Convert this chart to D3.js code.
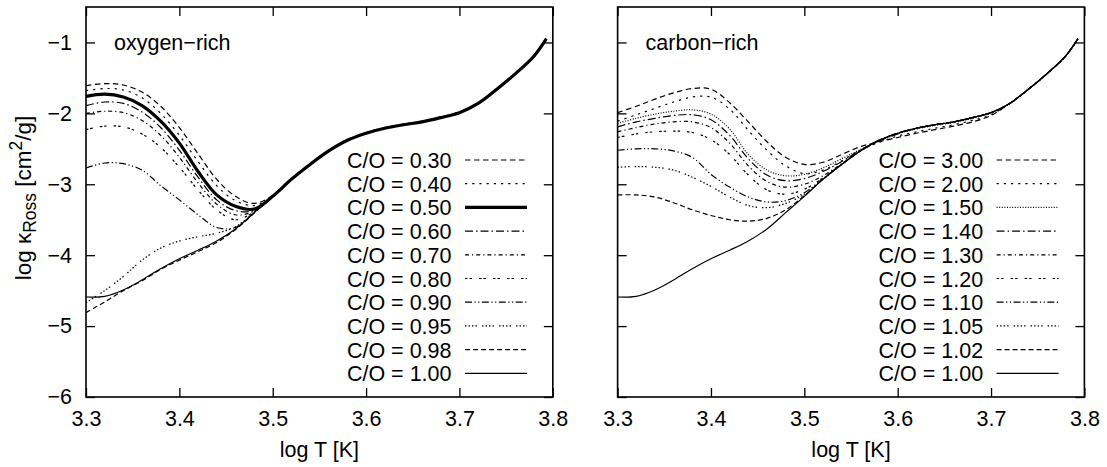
<!DOCTYPE html>
<html>
<head>
<meta charset="utf-8">
<script src="https://cdn.jsdelivr.net/npm/d3@7"></script>
<style>
  body { margin: 0; background: #fff; }
  svg text { font-family: "Liberation Sans", Arial, Helvetica, sans-serif; fill: #000; }
</style>
</head>
<body>
<svg id="chart" width="1107" height="467"></svg>
<script>
// ---------- DATA ----------
const T_GRID = [3.30,3.32,3.34,3.36,3.38,3.40,3.42,3.44,3.46,3.48,3.50,3.52,3.54,3.56,3.58,3.60,3.62,3.64,3.66,3.68,3.70];
const T_TAIL = [3.72,3.74,3.76,3.78,3.793];
const K_TAIL = [-1.86,-1.66,-1.44,-1.19,-0.95];

// oxygen-rich
const kO030 = [-1.61,-1.58,-1.60,-1.70,-1.90,-2.20,-2.57,-2.93,-3.17,-3.27,-3.16,-2.92,-2.71,-2.52,-2.37,-2.27,-2.20,-2.15,-2.11,-2.05,-1.98];
const kO040 = [-1.68,-1.65,-1.67,-1.78,-2.00,-2.31,-2.68,-3.02,-3.23,-3.30,-3.17,-2.93,-2.72,-2.53,-2.38,-2.28,-2.21,-2.16,-2.12,-2.06,-1.99];
const kO050 = [-1.76,-1.73,-1.77,-1.89,-2.11,-2.42,-2.82,-3.15,-3.31,-3.35,-3.17,-2.93,-2.72,-2.53,-2.38,-2.28,-2.21,-2.16,-2.12,-2.06,-1.99];
const kO060 = [-1.89,-1.84,-1.86,-1.98,-2.20,-2.52,-2.90,-3.22,-3.37,-3.37,-3.17,-2.93,-2.72,-2.53,-2.38,-2.28,-2.21,-2.16,-2.12,-2.06,-1.99];
const kO070 = [-2.00,-1.97,-1.99,-2.10,-2.31,-2.62,-2.98,-3.28,-3.43,-3.38,-3.17,-2.93,-2.72,-2.53,-2.38,-2.28,-2.21,-2.16,-2.12,-2.06,-1.99];
const kO080 = [-2.23,-2.18,-2.19,-2.29,-2.48,-2.76,-3.08,-3.36,-3.50,-3.39,-3.17,-2.93,-2.72,-2.53,-2.38,-2.28,-2.21,-2.16,-2.12,-2.06,-1.99];
const kO090 = [-2.77,-2.70,-2.71,-2.80,-3.02,-3.22,-3.43,-3.61,-3.61,-3.40,-3.17,-2.93,-2.72,-2.53,-2.38,-2.28,-2.21,-2.16,-2.12,-2.06,-1.99];
const kO095 = [-4.67,-4.50,-4.30,-4.07,-3.90,-3.80,-3.74,-3.69,-3.60,-3.40,-3.17,-2.93,-2.72,-2.53,-2.38,-2.28,-2.21,-2.16,-2.12,-2.06,-1.99];
const kO098 = [-4.81,-4.66,-4.50,-4.36,-4.20,-4.07,-3.95,-3.82,-3.64,-3.41,-3.17,-2.93,-2.72,-2.53,-2.38,-2.28,-2.21,-2.16,-2.12,-2.06,-1.99];
const k100  = [-4.59,-4.58,-4.49,-4.35,-4.19,-4.05,-3.93,-3.80,-3.63,-3.40,-3.17,-2.93,-2.72,-2.53,-2.38,-2.28,-2.21,-2.16,-2.12,-2.06,-1.99];

// carbon-rich
const kC300 = [-1.99,-1.90,-1.80,-1.71,-1.65,-1.66,-1.85,-2.12,-2.40,-2.62,-2.72,-2.69,-2.58,-2.47,-2.40,-2.34,-2.28,-2.23,-2.18,-2.12,-2.03];
const kC200 = [-2.11,-2.02,-1.93,-1.84,-1.77,-1.77,-1.94,-2.24,-2.52,-2.74,-2.85,-2.80,-2.67,-2.52,-2.41,-2.32,-2.26,-2.21,-2.16,-2.10,-2.02];
const kC150 = [-2.14,-2.07,-2.01,-1.97,-1.95,-2.01,-2.22,-2.58,-2.80,-2.88,-2.86,-2.77,-2.64,-2.51,-2.39,-2.29,-2.22,-2.17,-2.13,-2.07,-1.99];
const kC140 = [-2.19,-2.12,-2.07,-2.03,-2.02,-2.09,-2.31,-2.64,-2.87,-2.95,-2.92,-2.82,-2.68,-2.52,-2.39,-2.29,-2.21,-2.16,-2.12,-2.06,-1.99];
const kC130 = [-2.26,-2.20,-2.15,-2.12,-2.12,-2.20,-2.42,-2.74,-2.96,-3.04,-3.00,-2.88,-2.71,-2.53,-2.39,-2.28,-2.21,-2.16,-2.12,-2.06,-1.99];
const kC120 = [-2.34,-2.29,-2.26,-2.25,-2.27,-2.37,-2.58,-2.87,-3.08,-3.14,-3.07,-2.91,-2.72,-2.53,-2.38,-2.28,-2.21,-2.16,-2.12,-2.06,-1.99];
const kC110 = [-2.52,-2.50,-2.50,-2.53,-2.62,-2.86,-3.04,-3.18,-3.25,-3.23,-3.12,-2.92,-2.72,-2.53,-2.38,-2.28,-2.21,-2.16,-2.12,-2.06,-1.99];
const kC105 = [-2.76,-2.75,-2.76,-2.80,-2.90,-3.03,-3.18,-3.30,-3.33,-3.27,-3.14,-2.93,-2.72,-2.53,-2.38,-2.28,-2.21,-2.16,-2.12,-2.06,-1.99];
const kC102 = [-3.15,-3.15,-3.18,-3.26,-3.36,-3.44,-3.50,-3.52,-3.48,-3.36,-3.16,-2.93,-2.72,-2.53,-2.38,-2.28,-2.21,-2.16,-2.12,-2.06,-1.99];

const oxygenLabels = ["C/O = 0.30","C/O = 0.40","C/O = 0.50","C/O = 0.60","C/O = 0.70","C/O = 0.80","C/O = 0.90","C/O = 0.95","C/O = 0.98","C/O = 1.00"];
const oxygenValues = [kO030,kO040,kO050,kO060,kO070,kO080,kO090,kO095,kO098,k100];
const carbonLabels = ["C/O = 3.00","C/O = 2.00","C/O = 1.50","C/O = 1.40","C/O = 1.30","C/O = 1.20","C/O = 1.10","C/O = 1.05","C/O = 1.02","C/O = 1.00"];
const carbonValues = [kC300,kC200,kC150,kC140,kC130,kC120,kC110,kC105,kC102,k100];

const xTicks = [3.3,3.4,3.5,3.6,3.7,3.8];
const yTicks = [-6,-5,-4,-3,-2,-1];

// ---------- STYLES ----------
const styles = [
  {dash:"5.5,3.5", w:1.2},
  {dash:"2.2,5", w:1.2},
  {dash:null, w:3.2},
  {dash:"8,3,1.5,3", w:1.2},
  {dash:"4,3,1.2,3", w:1.2},
  {dash:"2.5,2,2.5,7", w:1.2},
  {dash:"7,2.5,1.2,2.5,1.2,2.5", w:1.2},
  {dash:"1.5,2,1.5,2,1.5,2,1.5,5", w:1.2},
  {dash:"5,3", w:1.2},
  {dash:null, w:1.2}
];
const stylesC = styles.map((s,i)=> i===2 ? {dash:"1,1.6", w:1.2} : s);

// ---------- LAYOUT ----------
const svg = d3.select("#chart");
const yTop = 7, yBottom = 397, pw = 466.8;
const panels = [
  {x0:86, title:"oxygen\u2212rich", labels:oxygenLabels, values:oxygenValues, st:styles, ylabels:true},
  {x0:617.6, title:"carbon\u2212rich", labels:carbonLabels, values:carbonValues, st:stylesC, ylabels:false}
];
const y = d3.scaleLinear().domain([-6,-0.5]).range([yBottom, yTop]);
const FS = "21.5px";

panels.forEach(p => {
  const x = d3.scaleLinear().domain([3.3,3.8]).range([p.x0, p.x0+pw]);
  const g = svg.append("g");

  // curves
  const line = d3.line().x(d=>x(d[0])).y(d=>y(d[1])).curve(d3.curveCatmullRom.alpha(0.5));
  p.values.forEach((vals,i) => {
    const pts = T_GRID.map((t,j)=>[t, vals[j]]).concat(T_TAIL.map((t,j)=>[t, K_TAIL[j]]));
    g.append("path").datum(pts).attr("d", line)
      .attr("fill","none").attr("stroke","#000")
      .attr("stroke-width", p.st[i].w)
      .attr("stroke-dasharray", p.st[i].dash)
      .attr("stroke-linejoin","round");
  });

  // axes
  const ax = g.append("g").attr("transform",`translate(0,${yBottom})`)
    .call(d3.axisBottom(x).tickValues(xTicks).tickFormat(d3.format(".1f")).tickSizeInner(-9).tickSizeOuter(0).tickPadding(13.5));
  const axT = g.append("g").attr("transform",`translate(0,${yTop})`)
    .call(d3.axisTop(x).tickValues(xTicks).tickFormat("").tickSizeInner(-9).tickSizeOuter(0));
  const ayL = g.append("g").attr("transform",`translate(${p.x0},0)`)
    .call(d3.axisLeft(y).tickValues(yTicks).tickFormat(p.ylabels ? d3.format("d") : "").tickSizeInner(-9).tickSizeOuter(0).tickPadding(14));
  const ayR = g.append("g").attr("transform",`translate(${p.x0+pw},0)`)
    .call(d3.axisRight(y).tickValues(yTicks).tickFormat("").tickSizeInner(-9).tickSizeOuter(0));
  [ax,axT,ayL,ayR].forEach(a => {
    a.select(".domain").remove();
    a.selectAll("line").attr("stroke","#000").attr("stroke-width",1.3);
    a.selectAll("text").style("font-size",FS).attr("fill","#000")
      .style("font-family","'Liberation Sans', Arial, sans-serif");
  });

  // frame
  g.append("rect").attr("x",p.x0).attr("y",yTop).attr("width",pw).attr("height",yBottom-yTop)
    .attr("fill","none").attr("stroke","#000").attr("stroke-width",1.6);

  // title
  g.append("text").attr("x",p.x0+28).attr("y",50).style("font-size",FS).text(p.title);

  // x label
  g.append("text").attr("x",p.x0+pw/2).attr("y",457).attr("text-anchor","middle").style("font-size",FS).text("log T [K]");

  // legend
  p.labels.forEach((lab,i) => {
    const ly = 160 + i*23.7;
    g.append("text").attr("x",p.x0+365.5).attr("y",ly+8).attr("text-anchor","end").style("font-size",FS).text(lab);
    g.append("line").attr("x1",p.x0+379).attr("x2",p.x0+441).attr("y1",ly).attr("y2",ly)
      .attr("stroke","#000").attr("stroke-width",p.st[i].w).attr("stroke-dasharray",p.st[i].dash);
  });
});

// y label
const yl = svg.append("text").attr("transform","translate(31,198) rotate(-90)")
  .attr("text-anchor","middle").style("font-size","22.5px");
yl.append("tspan").text("log \u03BA");
yl.append("tspan").attr("dy",5).style("font-size","17.5px").text("Ross");
yl.append("tspan").attr("dy",-5).text(" [cm");
yl.append("tspan").attr("dy",-9).style("font-size","17.5px").text("2");
yl.append("tspan").attr("dy",9).text("/g]");
</script>
</body>
</html>
